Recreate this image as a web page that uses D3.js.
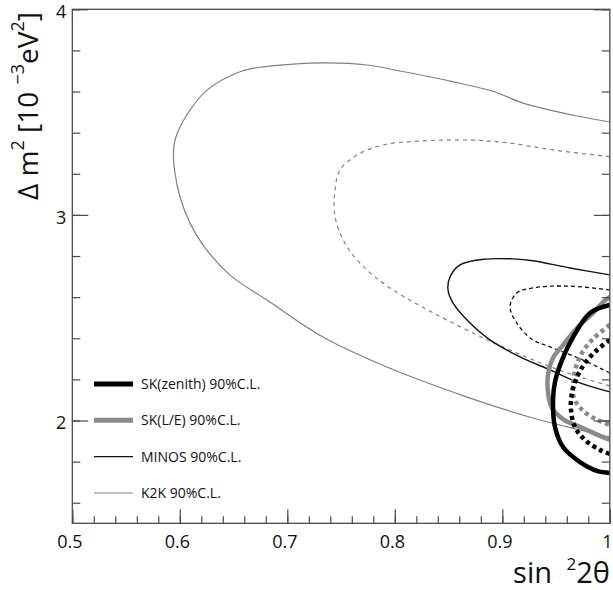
<!DOCTYPE html>
<html>
<head>
<meta charset="utf-8">
<script src="https://cdn.jsdelivr.net/npm/d3@7"></script>
<style>
  html, body { margin: 0; padding: 0; background: #fff; }
  svg { display: block; font-family: "Open Sans", "Liberation Sans", sans-serif; }
</style>
</head>
<body>
<svg id="chart" width="613" height="590"></svg>
<script>
// Oscillation parameter contours, sin^2(2θ) vs Δm^2 [1e-3 eV^2].
// Points; contours run to the x = 1 edge.

const xMajorTicks = [0.5, 0.6, 0.7, 0.8, 0.9, 1];
const xTickLabels = ["0.5", "0.6", "0.7", "0.8", "0.9", "1"];
const yMajorTicks = [2, 3, 4];
const yTickLabels = ["2", "3", "4"];

// K2K 90% C.L. (thin gray solid)
const k2k90 = [
  [1.0, 3.452], [0.9695, 3.481], [0.9193, 3.544], [0.8932, 3.598], [0.8514, 3.651],
  [0.8048, 3.700], [0.7741, 3.729], [0.7369, 3.739], [0.7025, 3.732], [0.6746, 3.718],
  [0.6560, 3.696], [0.6253, 3.607], [0.6095, 3.510], [0.6002, 3.427], [0.5955, 3.363],
  [0.5941, 3.301], [0.5955, 3.204], [0.6002, 3.087], [0.6095, 2.960], [0.6216, 2.853],
  [0.6467, 2.707], [0.6811, 2.586], [0.7332, 2.406], [0.7927, 2.260], [0.8672, 2.114],
  [0.9286, 2.012], [0.9723, 1.954], [1.0, 1.920]
];
// K2K inner contour (thin gray dashed)
const k2k68 = [
  [1.0, 3.283], [0.9472, 3.316], [0.9044, 3.351], [0.8700, 3.364], [0.8235, 3.359],
  [0.7890, 3.340], [0.7649, 3.291], [0.7490, 3.218], [0.7444, 3.120], [0.7444, 2.991],
  [0.7555, 2.845], [0.7741, 2.732], [0.7955, 2.645], [0.8355, 2.524], [0.8858, 2.393],
  [0.9286, 2.295], [0.9602, 2.232], [1.0, 2.168]
];
// MINOS 90% C.L. (thin black solid)
const minos90 = [
  [1.0, 2.708], [0.9630, 2.742], [0.9286, 2.777], [0.9100, 2.786], [0.8821, 2.784],
  [0.8607, 2.757], [0.8514, 2.699], [0.8495, 2.635], [0.8541, 2.572], [0.8672, 2.489],
  [0.8886, 2.392], [0.9165, 2.309], [0.9444, 2.246], [0.9695, 2.188], [1.0, 2.139]
];
// MINOS inner contour (thin black dashed)
const minos68 = [
  [1.0, 2.635], [0.9602, 2.654], [0.9286, 2.645], [0.9137, 2.621], [0.9072, 2.554],
  [0.9146, 2.465], [0.9286, 2.392], [0.9444, 2.358], [0.9751, 2.294], [1.0, 2.231]
];
// SK(L/E) 90% C.L. (thick gray solid)
const skLE90 = [
  [1.0, 2.601], [0.9937, 2.576], [0.9844, 2.523], [0.9695, 2.450], [0.9565, 2.367],
  [0.9472, 2.304], [0.9425, 2.221], [0.9425, 2.139], [0.9462, 2.061], [0.9574, 2.003],
  [0.9723, 1.969], [0.9909, 1.925], [1.0, 1.905]
];
// SK(L/E) inner contour (thick gray dotted)
const skLE68 = [
  [1.0, 2.465], [0.9844, 2.397], [0.9742, 2.329], [0.9686, 2.261], [0.9658, 2.183],
  [0.9667, 2.110], [0.9742, 2.052], [0.9881, 2.003], [1.0, 1.979]
];
// SK(zenith) 90% C.L. (thick black solid)
const skZen90 = [
  [1.0, 2.562], [0.9816, 2.523], [0.9658, 2.406], [0.9555, 2.294], [0.9490, 2.187],
  [0.9472, 2.100], [0.9490, 1.968], [0.9565, 1.871], [0.9723, 1.798], [0.9881, 1.755],
  [1.0, 1.745]
];
// SK(zenith) inner contour (thick black dotted)
const skZen68 = [
  [1.0, 2.392], [0.9881, 2.343], [0.9769, 2.279], [0.9695, 2.211], [0.9648, 2.133],
  [0.9639, 2.051], [0.9676, 1.968], [0.9769, 1.905], [0.9909, 1.857], [1.0, 1.837]
];

const legendLabels = ["SK(zenith) 90%C.L.", "SK(L/E) 90%C.L.", "MINOS 90%C.L.", "K2K 90%C.L."];

const W = 613, H = 590;
const M = { left: 72.3, right: 609.8, top: 9.3, bottom: 523.3 };

const svg = d3.select("#chart");
const x = d3.scaleLinear().domain([0.5, 1]).range([M.left, M.right]);
const y = d3.scaleLinear().domain([1.5, 4]).range([M.bottom, M.top]);

const FRAME = "#4a4a4a";

svg.append("defs").append("clipPath").attr("id", "plot-clip")
  .append("rect")
  .attr("x", M.left).attr("y", M.top)
  .attr("width", M.right - M.left).attr("height", M.bottom - M.top);

// styles for each contour — drawn thin first, thick on top
const styles = {
  k2k90:   { color: "#808080", width: 1.2, dash: null },
  k2k68:   { color: "#808080", width: 1.2, dash: "4,4" },
  minos90: { color: "#111",    width: 1.4, dash: null },
  minos68: { color: "#111",    width: 1.3, dash: "4,3" },
  skLE90:  { color: "#8a8a8a", width: 4.5, dash: null },
  skLE68:  { color: "#8a8a8a", width: 4.5, dash: "4,3.5" },
  skZen90: { color: "#000",    width: 4.5, dash: null },
  skZen68: { color: "#000",    width: 4.5, dash: "4,3.5" },
};

const contours = [
  ["k2k90", k2k90], ["k2k68", k2k68], ["minos90", minos90], ["minos68", minos68],
  ["skLE90", skLE90], ["skLE68", skLE68], ["skZen90", skZen90], ["skZen68", skZen68],
];

const line = d3.line().x((d) => x(d[0])).y((d) => y(d[1])).curve(d3.curveCatmullRom.alpha(0.5));

const plot = svg.append("g").attr("clip-path", "url(#plot-clip)");
plot.selectAll("path")
  .data(contours)
  .join("path")
  .attr("d", (d) => line(d[1]))
  .attr("fill", "none")
  .attr("stroke", (d) => styles[d[0]].color)
  .attr("stroke-width", (d) => styles[d[0]].width)
  .attr("stroke-dasharray", (d) => styles[d[0]].dash)
  .attr("stroke-linejoin", "round");

// ---------------- axes ----------------

const xMinor = d3.range(0.5, 1.0001, 0.02);
const yMinor = d3.range(1.6, 4.0001, 0.2);

function styleAxis(g) {
  g.select(".domain").remove();
  g.selectAll(".tick line").attr("stroke", FRAME).attr("stroke-width", 1.2);
}

svg.append("g")
  .attr("transform", `translate(0,${M.bottom})`)
  .call(d3.axisBottom(x).tickValues(xMinor).tickSize(-7).tickFormat(""))
  .call(styleAxis);

svg.append("g")
  .attr("transform", `translate(0,${M.bottom})`)
  .call(d3.axisBottom(x).tickValues(xMajorTicks).tickSize(-14).tickPadding(12)
    .tickFormat((d, i) => xTickLabels[i]))
  .call(styleAxis)
  .call((g) => g.selectAll("text")
    .attr("font-size", 18).attr("fill", "#111").attr("dx", -3)
    .attr("font-family", "'Open Sans', sans-serif"));

svg.append("g")
  .attr("transform", `translate(${M.left},0)`)
  .call(d3.axisLeft(y).tickValues(yMinor).tickSize(-8).tickFormat(""))
  .call(styleAxis);

svg.append("g")
  .attr("transform", `translate(${M.left},0)`)
  .call(d3.axisLeft(y).tickValues(yMajorTicks).tickSize(-16).tickPadding(6)
    .tickFormat((d, i) => yTickLabels[i]))
  .call(styleAxis)
  .call((g) => g.selectAll("text")
    .attr("font-size", 18).attr("fill", "#111").attr("dy", "0.45em")
    .attr("font-family", "'Open Sans', sans-serif"));

// right side: ticks only, pointing inward
svg.append("g")
  .attr("transform", `translate(${M.right},0)`)
  .call(d3.axisRight(y).tickValues(yMinor).tickSize(-8).tickFormat(""))
  .call(styleAxis);
svg.append("g")
  .attr("transform", `translate(${M.right},0)`)
  .call(d3.axisRight(y).tickValues(yMajorTicks).tickSize(-16).tickFormat(""))
  .call(styleAxis);

// frame
svg.append("rect")
  .attr("x", M.left).attr("y", M.top)
  .attr("width", M.right - M.left).attr("height", M.bottom - M.top)
  .attr("fill", "none").attr("stroke", FRAME).attr("stroke-width", 1.3);

// ---------------- axis titles ----------------

const xt = svg.append("text")
  .attr("x", 610).attr("y", 583)
  .attr("text-anchor", "end")
  .attr("font-size", 29).attr("fill", "#111");
xt.append("tspan").text("sin\u2002");
xt.append("tspan").attr("font-size", 17).attr("dy", -13).text("2");
xt.append("tspan").attr("dy", 13).text("2θ");

const yt = svg.append("text")
  .attr("transform", "translate(38,12) rotate(-90)")
  .attr("text-anchor", "end")
  .attr("font-size", 28).attr("fill", "#111");
yt.append("tspan").text("Δ m");
yt.append("tspan").attr("font-size", 18).attr("dy", -14).text("2");
yt.append("tspan").attr("dy", 14).text(" [10 ");
yt.append("tspan").attr("font-size", 18).attr("dy", -14).text("−3");
yt.append("tspan").attr("dy", 14).text("eV");
yt.append("tspan").attr("font-size", 18).attr("dy", -14).text("2");
yt.append("tspan").attr("dy", 14).text("]");

// ---------------- legend ----------------

const legendKeys = ["skZen90", "skLE90", "minos90", "k2k90"];
const legendY = d3.scalePoint().domain(legendKeys).range([384, 493]);

const legend = svg.append("g").selectAll("g")
  .data(legendKeys)
  .join("g")
  .attr("transform", (k) => `translate(0,${legendY(k)})`);

legend.append("line")
  .attr("x1", 94).attr("x2", 133)
  .attr("stroke", (k) => styles[k].color)
  .attr("stroke-width", (k) => (styles[k].width > 2 ? 5 : styles[k].width));

legend.append("text")
  .attr("x", 141).attr("dy", "0.36em")
  .attr("font-size", 14).attr("fill", "#111")
  .text((k, i) => legendLabels[i]);
</script>
</body>
</html>
